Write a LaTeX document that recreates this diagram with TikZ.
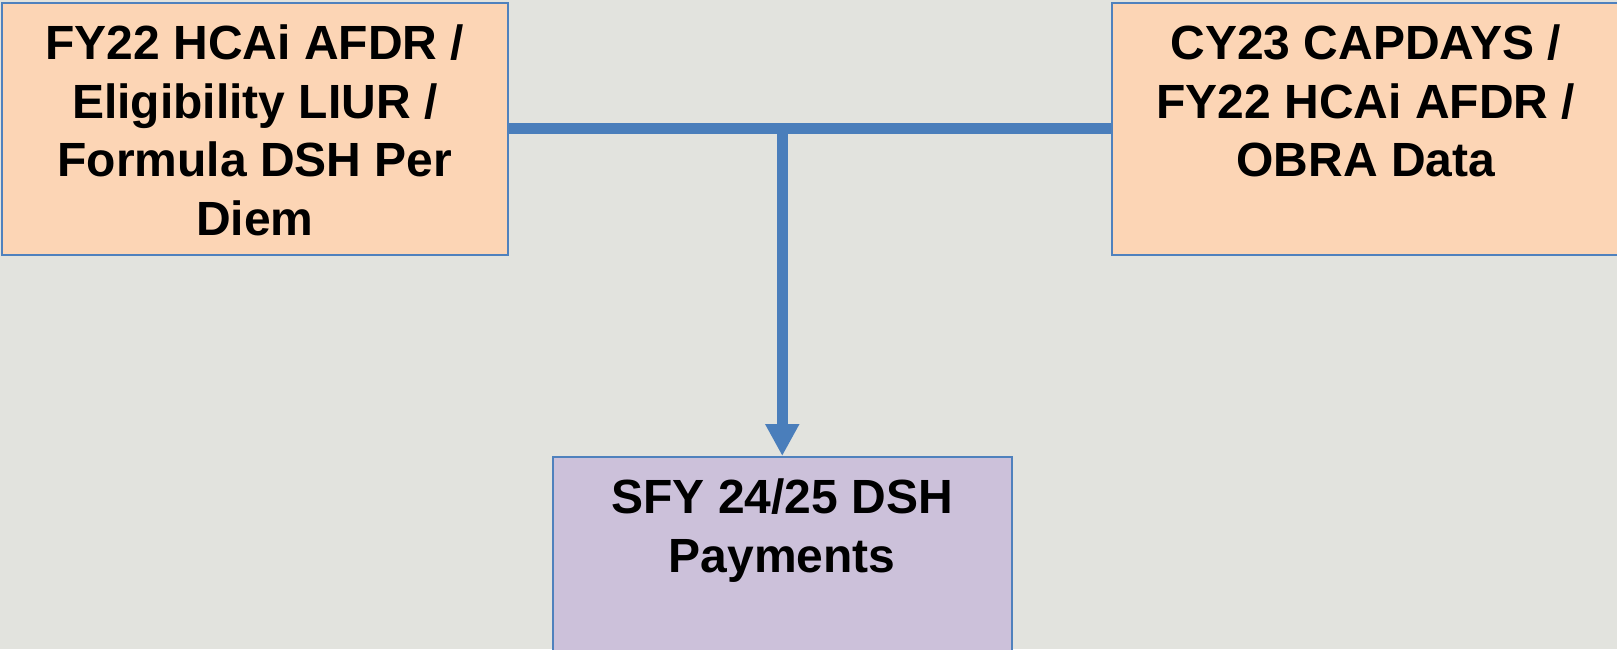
\documentclass[tikz,border=0pt]{standalone}
\usepackage{fontspec}
\setmainfont{Liberation Sans}
\usetikzlibrary{arrows.meta}
\definecolor{canvas}{HTML}{E2E3DE}
\definecolor{peach}{HTML}{FCD5B5}
\definecolor{lilac}{HTML}{CCC1DA}
\definecolor{edgeblue}{HTML}{4F81BD}
\definecolor{linkblue}{HTML}{4A7EBB}
\tikzset{
  box/.style={draw=edgeblue, line width=1.5pt, inner sep=0pt, anchor=north west},
  srcbox/.style={box, fill=peach},
  dstbox/.style={box, fill=lilac},
  lbl/.style={anchor=north, inner sep=0pt, align=center,
    font=\fontsize{48}{58.5}\selectfont\bfseries},
  link/.style={draw=linkblue, line width=11pt},
}
\begin{document}
\begin{tikzpicture}[x=1pt,y=-1pt]
\useasboundingbox (0,0) rectangle (1617,649);
\clip (0,0) rectangle (1617,649);
\fill[canvas] (0,0) rectangle (1617,649);
% input boxes
\node[srcbox, minimum width=506pt, minimum height=252pt] (src1) at (1,2) {};
\node[srcbox, minimum width=508pt, minimum height=252pt] (src2) at (1111,2) {};
% output box
\node[dstbox, minimum width=459pt, minimum height=220pt] (dst) at (552,456) {};
% labels
\node[lbl] (src1txt) at ([yshift=-23pt]src1.north) {FY22 HCAi AFDR /\\Eligibility LIUR /\\Formula DSH Per\\Diem};
\node[lbl] (src2txt) at ([yshift=-23pt]src2.north) {CY23 CAPDAYS /\\FY22 HCAi AFDR /\\OBRA Data};
\node[lbl] (dsttxt) at ([yshift=-23pt]dst.north) {SFY 24/25 DSH\\Payments};
% connectors
\draw[link] (src1.east) -- (src2.west);
\coordinate (join) at (dst.north |- src1.east);
\draw[link, -{Triangle[length=32pt, width=32pt]}, shorten <=-5.5pt] (join) -- (dst.north);
\end{tikzpicture}
\end{document}
